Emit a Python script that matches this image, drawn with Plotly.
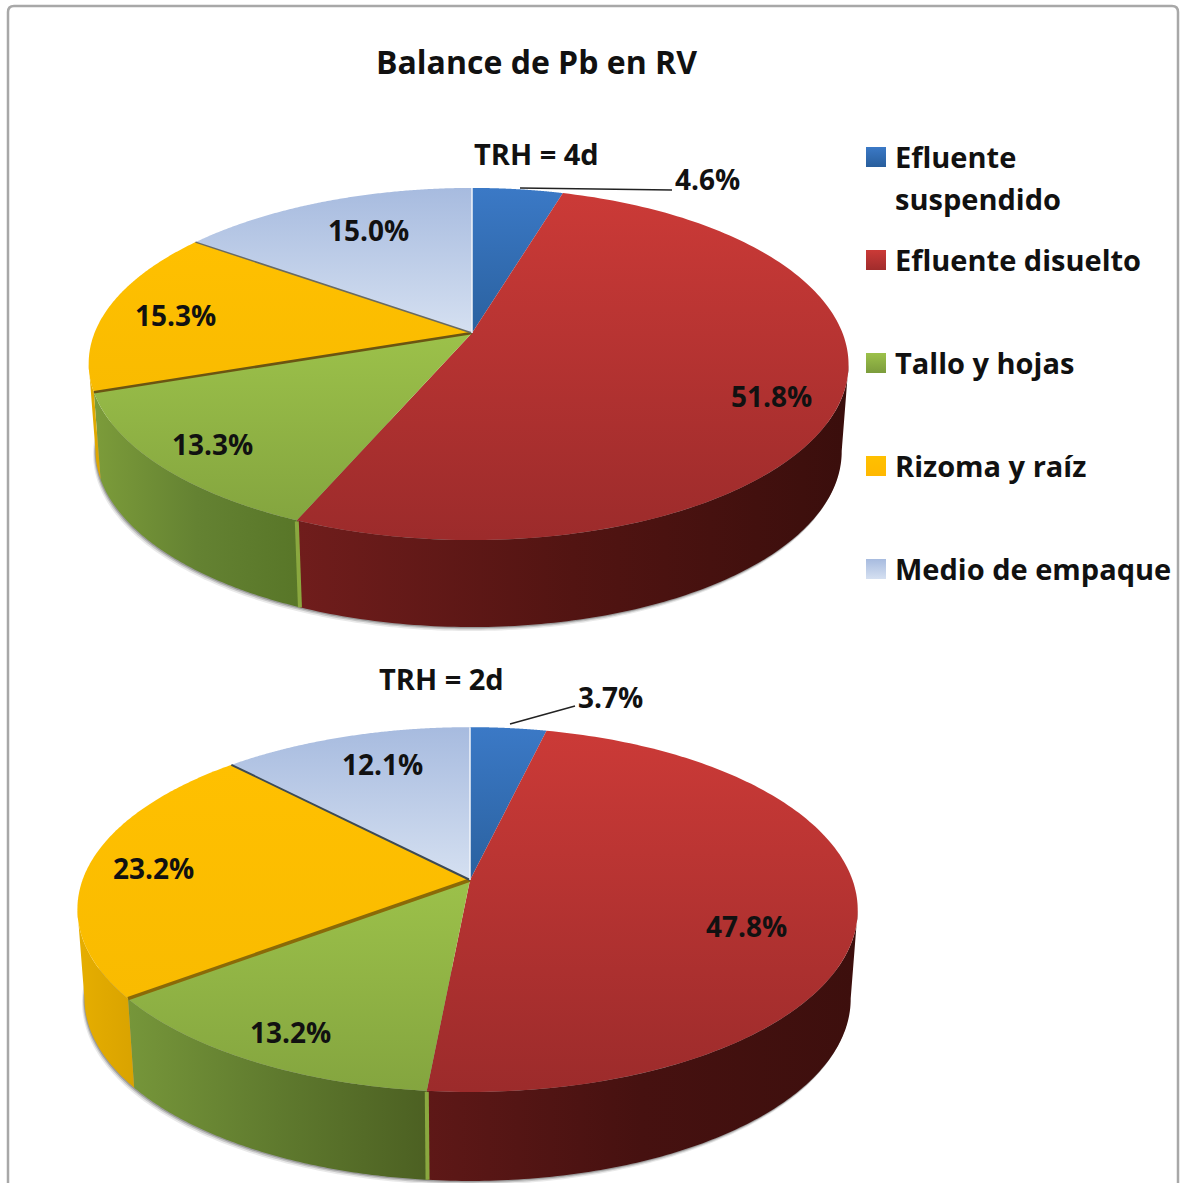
import numpy as np
import plotly.graph_objects as go

CATEGORIES = ["Efluente suspendido", "Efluente disuelto", "Tallo y hojas", "Rizoma y raíz", "Medio de empaque"]
VALUES_4D = [4.6, 51.8, 13.3, 15.3, 15.0]
VALUES_2D = [3.7, 47.8, 13.2, 23.2, 12.1]
TITLE = "Balance de Pb en RV"
PANEL_4D = "TRH = 4d"
PANEL_2D = "TRH = 2d"

TOP_COLORS = [("#3b79c6", "#2a619f"), ("#cb3a37", "#9c2b2b"), ("#9cc14a", "#84a53f"),
              ("#ffc000", "#f9bb00"), ("#a7bbdf", "#d5e0f1")]
WALLS_4D = [["#2a5a90", "#1f4570"], ["#701d1c", "#521412", "#3a0e0c"], ["#7c9c3a", "#648232", "#587628"],
            ["#e6ae00", "#d9a300"], ["#8090b0", "#8090b0"]]
WALLS_2D = [["#2a5a90", "#1f4570"], ["#5e1817", "#461110", "#3d0f0d"], ["#76963a", "#5f7a2e", "#4c6022"],
            ["#e6ae00", "#d9a300"], ["#8090b0", "#8090b0"]]
FONT = "Open Sans"
TEXT = "#111111"

fig = go.Figure()


def project(theta_deg, g, r=1.0, depth=0.0):
    t = np.radians(theta_deg)
    u, v = r * np.sin(t), -r * np.cos(t)
    den = 1 - g["k"] * v
    shrink = 1 - 0.018 * depth / g["depth"]
    return g["cx"] + shrink * g["rx"] * u / den + g["dx"] * u * u, g["cy"] + g["ry"] * v / den + depth


def poly(x, y, **kw):
    fig.add_trace(go.Scatter(x=x, y=y, mode="none", fill="toself", hoverinfo="skip",
                             showlegend=False, **kw))


def line(x, y, color, width):
    fig.add_trace(go.Scatter(x=x, y=y, mode="lines", line=dict(color=color, width=width),
                             hoverinfo="skip", showlegend=False))


def scale(colors):
    return [[j / (len(colors) - 1), c] for j, c in enumerate(colors)]


def draw_pie(values, g):
    edges = np.concatenate([[0], np.cumsum(values)]) * 3.6
    # the wall is only visible between the two tangent points of the rim
    tangent = np.degrees(np.arccos(-g["k"]))
    lo, hi = tangent, 360 - tangent
    # soft shadow under the wall
    th = np.linspace(lo - 10, hi + 10, 200)
    for off, alpha in ((4, 0.10), (2.5, 0.18), (1.2, 0.28)):
        sx, sy = project(th, g, depth=g["depth"])
        poly(sx - off * 0.6, sy + off, fillcolor=f"rgba(40,40,40,{alpha})")
    # outer walls
    for i in range(len(values)):
        a, b = max(edges[i], lo), min(edges[i + 1], hi)
        if b <= a:
            continue
        th = np.linspace(a, b, 120)
        tx, ty = project(th, g)
        bx, by = project(th[::-1], g, depth=g["depth"])
        poly(np.r_[tx, bx], np.r_[ty, by],
             fillgradient=dict(type="horizontal", colorscale=scale(g["walls"][i])))
    # light cut face between the green and red walls
    tx, ty = project(edges[2], g)
    bx, by = project(edges[2], g, depth=g["depth"])
    line([tx, bx], [ty + 1, by], "#8aa83f", 4)
    # top faces
    for i in range(len(values)):
        th = np.linspace(edges[i], edges[i + 1], 160)
        x, y = project(th, g)
        c = TOP_COLORS[i]
        poly(np.r_[g["cx"], x, g["cx"]], np.r_[g["cy"], y, g["cy"]],
             fillgradient=dict(type="vertical", colorscale=[[0, c[1]], [1, c[0]]]))
    # rim strokes between slices
    for idx, color, w in ((3, g["edge3"], g["edge3w"]), (4, g["edge4"], g["edge4w"]), (0, "#f2f5fa", 1.5)):
        x, y = project(edges[idx], g)
        line([g["cx"], x], [g["cy"], y], color, w)


GEOM_4D = dict(cx=472, cy=333, rx=374, ry=170.6, k=0.176, dx=-3.5, depth=87, edge3="#6b5512", edge3w=2.5,
               edge4="#6a6a60", edge4w=1.5, walls=WALLS_4D)
GEOM_2D = dict(cx=470, cy=880, rx=385, ry=177.6, k=0.162, dx=-2.5, depth=89, edge3="#8a6a08", edge3w=3.5,
               edge4="#3d4a55", edge4w=2, walls=WALLS_2D)
draw_pie(VALUES_4D, GEOM_4D)
draw_pie(VALUES_2D, GEOM_2D)

# leader lines
line([520, 672], [188, 190], "#222222", 1.5)
line([510, 575], [724, 706], "#222222", 1.5)

# legend keys
LEG_Y = [157, 260, 363, 466, 569]
fig.add_trace(go.Scatter(
    x=[876] * 5, y=LEG_Y, mode="markers", hoverinfo="skip", showlegend=False,
    marker=dict(symbol="square", size=20, color=[c[0] for c in TOP_COLORS],
                gradient=dict(type="vertical", color=["#285e9c", "#a02c2c", "#7c9c3c", "#ffb800", "#d5e0f1"]))))

ann = []
LABEL_WEIGHT = 700


def text(x, y, s, size=29, anchor="center"):
    ann.append(dict(x=x, y=y, text=s, showarrow=False, xanchor=anchor, yanchor="middle",
                    font=dict(family=FONT, size=size, color=TEXT, weight=LABEL_WEIGHT)))


text(536, 61, TITLE, 32)
text(536, 153, PANEL_4D)
text(441, 678, PANEL_2D)

POS_4D = [(707, 179), (771, 396), (212, 444), (175, 315), (368, 230)]
POS_2D = [(610, 697), (746, 926), (290, 1032), (153, 868), (382, 764)]
for vals, pos in ((VALUES_4D, POS_4D), (VALUES_2D, POS_2D)):
    for v, (x, y) in zip(vals, pos):
        text(x, y, f"{v:.1f}%", 28)

for i, (cat, y) in enumerate(zip(CATEGORIES, LEG_Y)):
    if i == 0:
        first, second = cat.split(" ")
        text(893, y - 1, first, 29, "left")
        text(893, y + 41, second, 29, "left")
    else:
        text(893, y - 1, cat, 29, "left")

fig.update_layout(
    width=1190, height=1183, margin=dict(l=0, r=0, t=0, b=0),
    paper_bgcolor="white", plot_bgcolor="white", showlegend=False,
    xaxis=dict(range=[0, 1190], visible=False, fixedrange=True),
    yaxis=dict(range=[1183, 0], visible=False, fixedrange=True),
    annotations=ann,
    shapes=[dict(type="path", path="M 8 1200 L 8 12 Q 8 6 14 6 L 1172 6 Q 1178 6 1178 12 L 1178 1200",
                 line=dict(color="#a8a8a8", width=2.5), layer="below")],
)
fig.write_html("out.html", config={"displayModeBar": False},
               post_script="document.body.style.margin='0';document.body.style.overflow='hidden';")
